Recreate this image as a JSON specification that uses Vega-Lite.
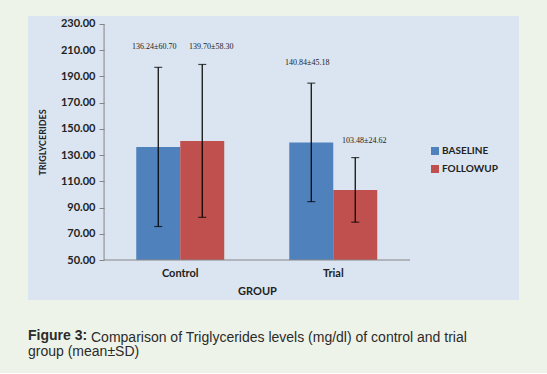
{
  "$schema": "https://vega.github.io/schema/vega-lite/v6.json",
  "autosize": {"type": "pad"},
  "padding": {"left": 28, "top": 16, "right": 28, "bottom": 14},
  "background": "#eef3e9",
  "config": {"view": {"fill": "#dbe5f1", "stroke": null}},
  "title": {
    "text": "Comparison of Triglycerides levels (mg/dl) of control and trial",
    "orient": "bottom",
    "anchor": "start",
    "frame": "group",
    "dx": 63,
    "offset": -28,
    "font": "Liberation Sans",
    "fontSize": 14,
    "fontWeight": "normal",
    "color": "#2b2b2b"
  },
  "vconcat": [
    {
      "width": 491,
      "height": 284,
      "title": {
        "text": "Figure 3:",
        "subtitle": "group (mean±SD)",
        "orient": "bottom",
        "anchor": "start",
        "frame": "group",
        "offset": 29,
        "font": "Liberation Sans",
        "fontSize": 14,
        "fontWeight": "bold",
        "color": "#2b2b2b",
        "subtitleFont": "Liberation Sans",
        "subtitleFontSize": 14,
        "subtitleFontWeight": "normal",
        "subtitleColor": "#2b2b2b",
        "subtitlePadding": 2
      },
      "data": {
        "values": [
          {"group": "Control", "series": "BASELINE", "mean": 136.24, "lo": 75.54, "hi": 196.94, "label": "136.24±60.70"},
          {"group": "Control", "series": "FOLLOWUP", "mean": 140.84, "lo": 82.54, "hi": 199.14, "label": "139.70±58.30"},
          {"group": "Trial", "series": "BASELINE", "mean": 139.7, "lo": 94.52, "hi": 184.88, "label": "140.84±45.18"},
          {"group": "Trial", "series": "FOLLOWUP", "mean": 103.48, "lo": 78.86, "hi": 128.1, "label": "103.48±24.62"}
        ]
      },
      "layer": [
        {
          "mark": {"type": "bar"},
          "encoding": {
            "x": {
              "field": "group", "type": "nominal",
              "scale": {"domain": ["Control", "Trial"], "paddingInner": 0.425, "paddingOuter": 0.817, "align": 0.433},
              "axis": {
                "offset": -40, "domain": false, "ticks": false, "labelAngle": 0, "labelPadding": 7,
                "labelFont": "Lato", "labelFontWeight": "bold", "labelFontSize": 11, "labelColor": "#222222",
                "title": "GROUP", "titleFont": "Lato", "titleFontWeight": "bold", "titleFontSize": 11, "titleColor": "#222222", "titlePadding": 7, "titleX": 229
              }
            },
            "xOffset": {"field": "series", "type": "nominal", "scale": {"domain": ["BASELINE", "FOLLOWUP"], "paddingInner": 0, "paddingOuter": 0}},
            "y": {
              "field": "mean", "type": "quantitative",
              "scale": {"domain": [19.5, 236.1], "nice": false, "zero": false},
              "axis": {
                "values": [50, 70, 90, 110, 130, 150, 170, 190, 210, 230], "tickCount": 30, "format": ".2f", "labelOverlap": false,
                "offset": -76, "domain": false, "grid": false, "tickSize": 5, "tickColor": "#868686",
                "labelFont": "Lato", "labelFontWeight": "bold", "labelFontSize": 11, "labelColor": "#222222", "labelPadding": 4,
                "title": "TRIGLYCERIDES", "titleFont": "Lato", "titleFontWeight": "bold", "titleFontSize": 9, "titleColor": "#222222", "titlePadding": 13, "titleY": 126
              }
            },
            "y2": {"datum": 50},
            "color": {
              "field": "series", "type": "nominal",
              "scale": {"domain": ["BASELINE", "FOLLOWUP"], "range": ["#4f81bd", "#c0504d"]},
              "legend": {
                "orient": "none", "legendX": 402, "legendY": 130, "title": null, "padding": 0,
                "symbolType": "square", "symbolSize": 64, "symbolStrokeWidth": 0, "rowPadding": 8, "labelOffset": 2,
                "labelFont": "Lato", "labelFontWeight": "bold", "labelFontSize": 10, "labelColor": "#222222"
              }
            }
          }
        },
        {
          "mark": {"type": "rule", "color": "#000000", "strokeWidth": 1.2},
          "encoding": {
            "x": {"field": "group", "type": "nominal"},
            "xOffset": {"field": "series", "type": "nominal"},
            "y": {"field": "lo", "type": "quantitative"},
            "y2": {"field": "hi"}
          }
        },
        {
          "mark": {"type": "tick", "color": "#000000", "size": 8, "thickness": 1.2, "orient": "horizontal"},
          "encoding": {
            "x": {"field": "group", "type": "nominal"},
            "xOffset": {"field": "series", "type": "nominal"},
            "y": {"field": "lo", "type": "quantitative"}
          }
        },
        {
          "mark": {"type": "tick", "color": "#000000", "size": 8, "thickness": 1.2, "orient": "horizontal"},
          "encoding": {
            "x": {"field": "group", "type": "nominal"},
            "xOffset": {"field": "series", "type": "nominal"},
            "y": {"field": "hi", "type": "quantitative"}
          }
        },
        {
          "transform": [{"filter": "datum.series === 'BASELINE'"}],
          "mark": {"type": "text", "font": "Liberation Serif", "fontSize": 8, "color": "#222222", "dy": -20, "dx": -4, "baseline": "middle"},
          "encoding": {
            "x": {"field": "group", "type": "nominal"},
            "xOffset": {"field": "series", "type": "nominal"},
            "y": {"field": "hi", "type": "quantitative"},
            "text": {"field": "label"}
          }
        },
        {
          "transform": [{"filter": "datum.series === 'FOLLOWUP'"}],
          "mark": {"type": "text", "font": "Liberation Serif", "fontSize": 8, "color": "#222222", "dy": -17, "dx": 9, "baseline": "middle"},
          "encoding": {
            "x": {"field": "group", "type": "nominal"},
            "xOffset": {"field": "series", "type": "nominal"},
            "y": {"field": "hi", "type": "quantitative"},
            "text": {"field": "label"}
          }
        },
        {
          "data": {"values": [{"line": "axes"}]},
          "mark": {"type": "rule", "color": "#868686", "strokeWidth": 1},
          "encoding": {
            "x": {"datum": "Control", "type": "nominal", "bandPosition": -0.366},
            "y": {"datum": 50, "type": "quantitative"},
            "y2": {"datum": 230}
          }
        },
        {
          "data": {"values": [{"line": "axes"}]},
          "mark": {"type": "rule", "color": "#868686", "strokeWidth": 1},
          "encoding": {
            "x": {"datum": "Control", "type": "nominal", "bandPosition": -0.366},
            "x2": {"datum": "Trial", "bandPosition": 1.373},
            "y": {"datum": 50, "type": "quantitative"}
          }
        }
      ]
    }
  ]
}
